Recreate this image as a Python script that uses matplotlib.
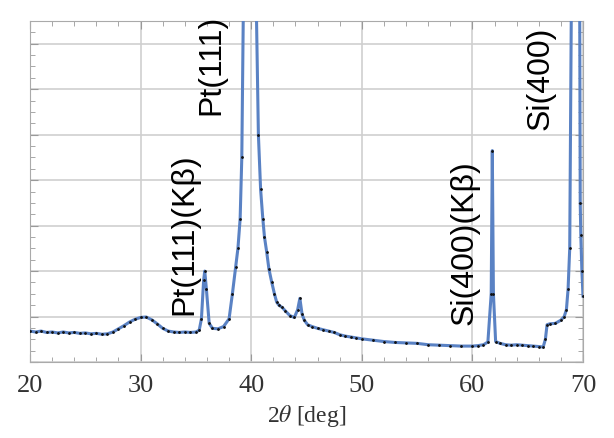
import numpy as np
import matplotlib
matplotlib.use("Agg")
import matplotlib.pyplot as plt
import matplotlib.ticker as ticker

plt.rcParams["mathtext.fontset"] = "stix"

# 2theta positions (deg) and intensity (arb. units)
two_theta = [
    20, 20.5, 21, 21.5, 22, 22.5, 23, 23.5, 24, 24.5,
    25, 25.5, 26, 26.5, 27, 27.5, 28, 28.5, 29, 29.5,
    30, 30.5, 31, 31.5, 32, 32.5, 33, 33.5, 34, 34.5,
    35, 35.3, 35.5, 35.7, 35.8, 35.95, 36.2, 36.5, 37, 37.5,
    38, 38.3, 38.6, 38.8, 39.0, 39.15, 39.3, 39.8, 40.45, 40.65,
    40.85, 41.05, 41.2, 41.4, 41.6, 41.85, 42.1, 42.3, 42.5, 42.8,
    43.1, 43.5, 43.9, 44.2, 44.4, 44.6, 44.8, 45.1, 45.5, 46,
    46.5, 47, 47.5, 48, 48.5, 49, 49.5, 50, 51, 52,
    53, 54, 55, 56, 57, 58, 59, 60, 60.5, 61,
    61.4, 61.7, 61.8, 61.9, 62.1, 62.5, 63, 63.5, 64, 64.5,
    65, 65.5, 66, 66.4, 66.6, 66.75, 67, 67.5, 68, 68.3,
    68.5, 68.65, 68.8, 68.95, 69.3, 69.7, 69.75, 69.8, 69.9, 70,
]
intensity = [
    0.68, 0.66, 0.68, 0.65, 0.66, 0.64, 0.66, 0.64, 0.65, 0.63,
    0.64, 0.62, 0.63, 0.61, 0.62, 0.66, 0.73, 0.80, 0.88, 0.94,
    0.98, 0.99, 0.93, 0.84, 0.74, 0.68, 0.66, 0.65, 0.66, 0.65,
    0.66, 0.70, 0.95, 1.80, 2.00, 1.60, 0.85, 0.74, 0.73, 0.78,
    0.95, 1.50, 2.10, 2.50, 3.15, 4.50, 8.0, 20.0, 8.0, 5.0,
    3.80, 3.15, 2.75, 2.42, 2.05, 1.76, 1.50, 1.32, 1.25, 1.20,
    1.12, 1.02, 0.98, 1.15, 1.40, 1.05, 0.92, 0.82, 0.78, 0.74,
    0.71, 0.68, 0.65, 0.60, 0.57, 0.55, 0.53, 0.51, 0.48, 0.45,
    0.43, 0.42, 0.41, 0.38, 0.37, 0.36, 0.35, 0.35, 0.36, 0.38,
    0.44, 1.50, 4.65, 1.50, 0.45, 0.41, 0.38, 0.37, 0.38, 0.37,
    0.36, 0.35, 0.34, 0.33, 0.50, 0.82, 0.84, 0.85, 0.92, 1.00,
    1.15, 1.60, 2.50, 8.0, 25.0, 8.0, 3.50, 2.80, 2.00, 1.45,
]

peak_labels = ["Pt(111)(Kβ)", "Pt(111)", "Si(400)(Kβ)", "Si(400)"]
label_x = [34.0, 36.4, 59.3, 66.2]
label_y = [1.05, 5.45, 0.84, 5.13]

fig = plt.figure(figsize=(6.14, 4.39), dpi=100)
ax = fig.add_axes([30 / 614, 1 - 363 / 439, 553 / 614, 341 / 439])

ax.plot(two_theta, intensity, color="#5a82c4", lw=2.2, zorder=3)
ax.plot(two_theta, intensity, ls="none", marker=".", ms=2, color="#111111", zorder=4)

for txt, x, y in zip(peak_labels, label_x, label_y):
    ax.text(x, y, txt, rotation=90, ha="center", va="bottom", fontsize=23,
            family="Liberation Sans", zorder=5, clip_on=False)

ax.set_xlim(20, 70)
ax.set_ylim(0, 7.5)
ax.xaxis.set_major_locator(ticker.MultipleLocator(10))
ax.xaxis.set_minor_locator(ticker.MultipleLocator(2))
ax.yaxis.set_major_locator(ticker.MultipleLocator(1))
ax.yaxis.set_minor_locator(ticker.MultipleLocator(0.25))
ax.yaxis.set_major_formatter(ticker.NullFormatter())
ax.grid(True, which="major", color="#cfcfcf", lw=1.2, zorder=0)

ax.tick_params(which="both", direction="in", top=True, right=True, color="#999999",
               labelsize=19, pad=9)
ax.tick_params(which="major", length=6)
ax.tick_params(which="minor", length=3.5)
for lbl in ax.get_xticklabels():
    lbl.set_family("Liberation Serif")
    lbl.set_color("#333333")
for s in ax.spines.values():
    s.set_color("#aaaaaa")

ax.set_xlabel(r"2$\theta$ [deg]", fontsize=17, family="Liberation Serif",
              color="#333333", labelpad=4)

fig.savefig("out.png", dpi=100)
